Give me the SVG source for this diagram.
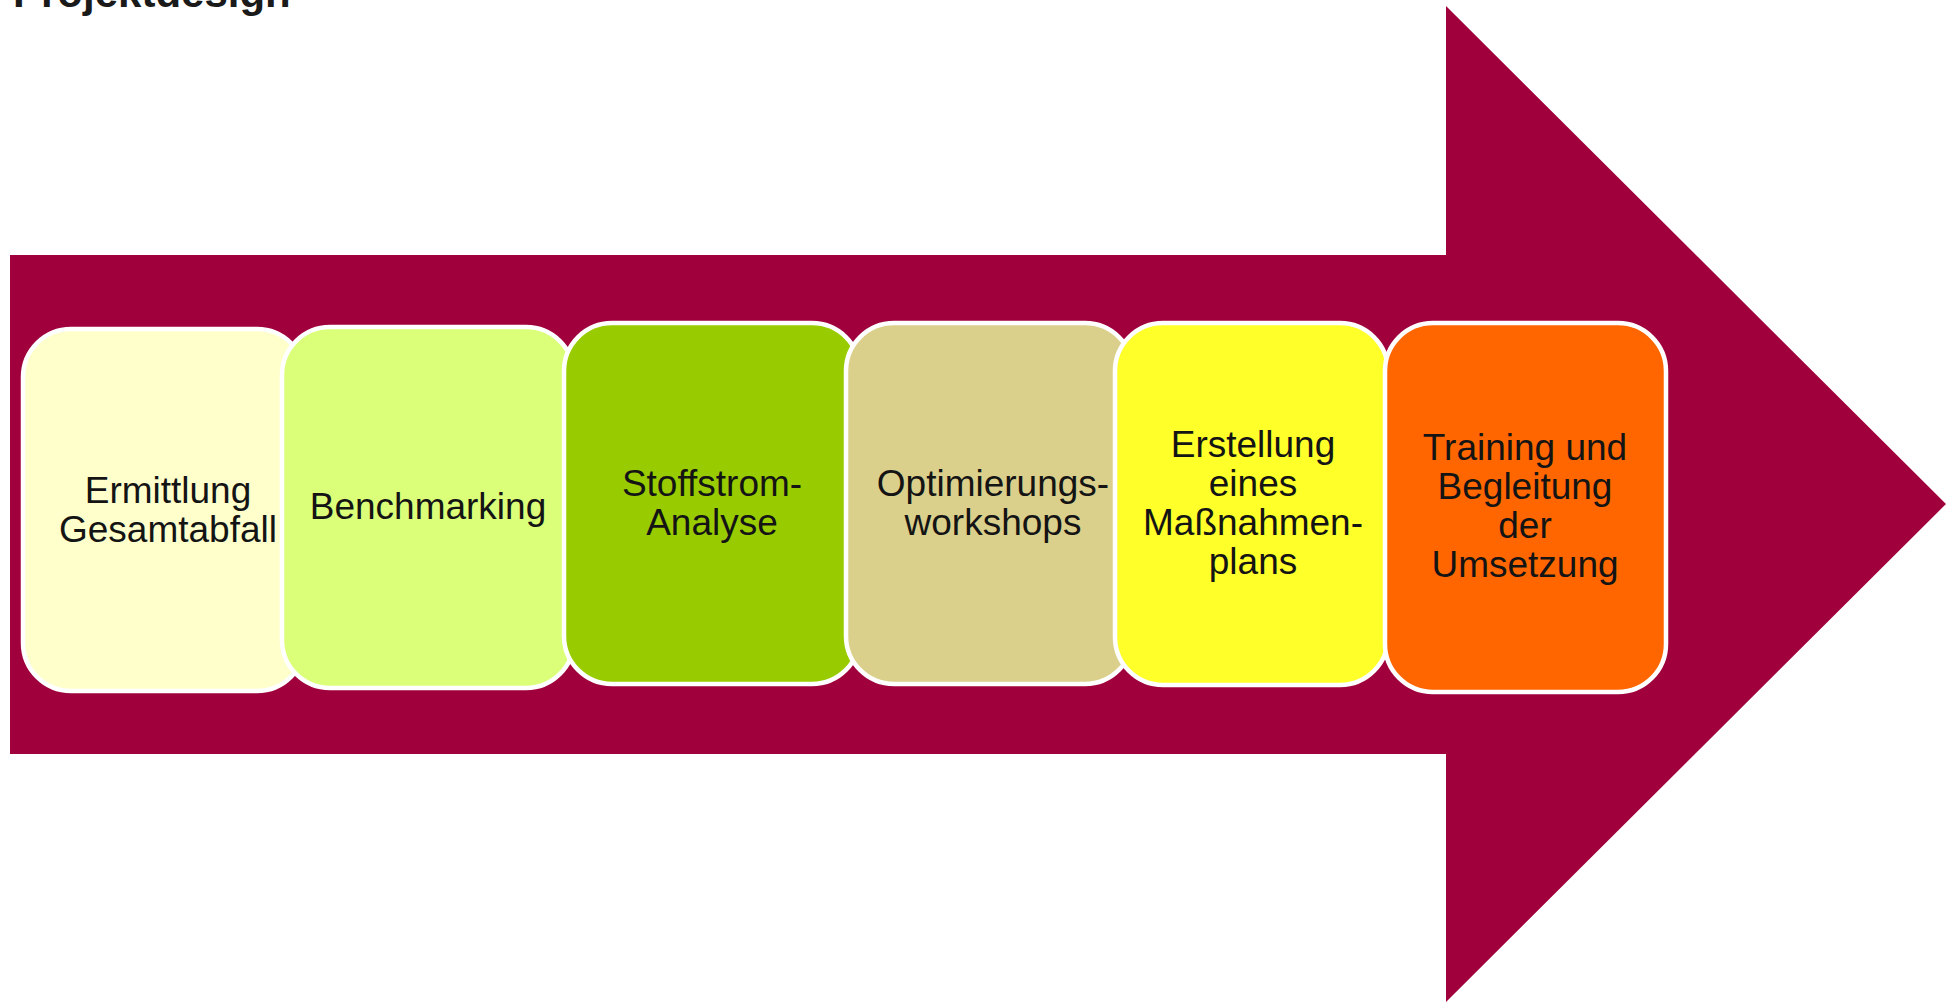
<svg xmlns="http://www.w3.org/2000/svg" width="1950" height="1002" viewBox="0 0 1950 1002">
<style>
.box{stroke:#ffffff;stroke-width:4.5}
.lbl{font-family:"Liberation Sans",Arial,sans-serif;font-size:37px;fill:#141414;text-anchor:middle}
.title{font-family:"Liberation Sans",Arial,sans-serif;font-size:42px;font-weight:bold;fill:#1a1a1a}
</style>
<rect width="1950" height="1002" fill="#ffffff"/>
<text class="title" x="13" y="7">Projektdesign</text>
<g id="arrow">
<polygon points="10,255 1446,255 1446,6 1946,504 1446,1002 1446,754 10,754" fill="#A0003C"/>
</g>
<g id="connectors"></g>
<g id="node1">
<rect class="box" x="23" y="329" width="282" height="362" rx="48" fill="#FFFFCC"/>
<text class="lbl" x="168" y="503">Ermittlung</text>
<text class="lbl" x="168" y="542">Gesamtabfall</text>
</g>
<g id="node2">
<rect class="box" x="282" y="327" width="292" height="361" rx="48" fill="#DBFF78"/>
<text class="lbl" x="428" y="519">Benchmarking</text>
</g>
<g id="node3">
<rect class="box" x="564" y="323" width="296" height="361" rx="48" fill="#99CC00"/>
<text class="lbl" x="712" y="496">Stoffstrom-</text>
<text class="lbl" x="712" y="535">Analyse</text>
</g>
<g id="node4">
<rect class="box" x="846" y="323" width="287" height="361" rx="48" fill="#DBD08B"/>
<text class="lbl" x="993" y="496">Optimierungs-</text>
<text class="lbl" x="993" y="535">workshops</text>
</g>
<g id="node5">
<rect class="box" x="1115" y="323" width="273" height="362" rx="48" fill="#FFFF2A"/>
<text class="lbl" x="1253" y="457">Erstellung</text>
<text class="lbl" x="1253" y="496">eines</text>
<text class="lbl" x="1253" y="535">Maßnahmen-</text>
<text class="lbl" x="1253" y="574">plans</text>
</g>
<g id="node6">
<rect class="box" x="1385" y="323" width="281" height="369" rx="48" fill="#FF6600"/>
<text class="lbl" x="1525" y="460">Training und</text>
<text class="lbl" x="1525" y="499">Begleitung</text>
<text class="lbl" x="1525" y="538">der</text>
<text class="lbl" x="1525" y="577">Umsetzung</text>
</g>
</svg>
